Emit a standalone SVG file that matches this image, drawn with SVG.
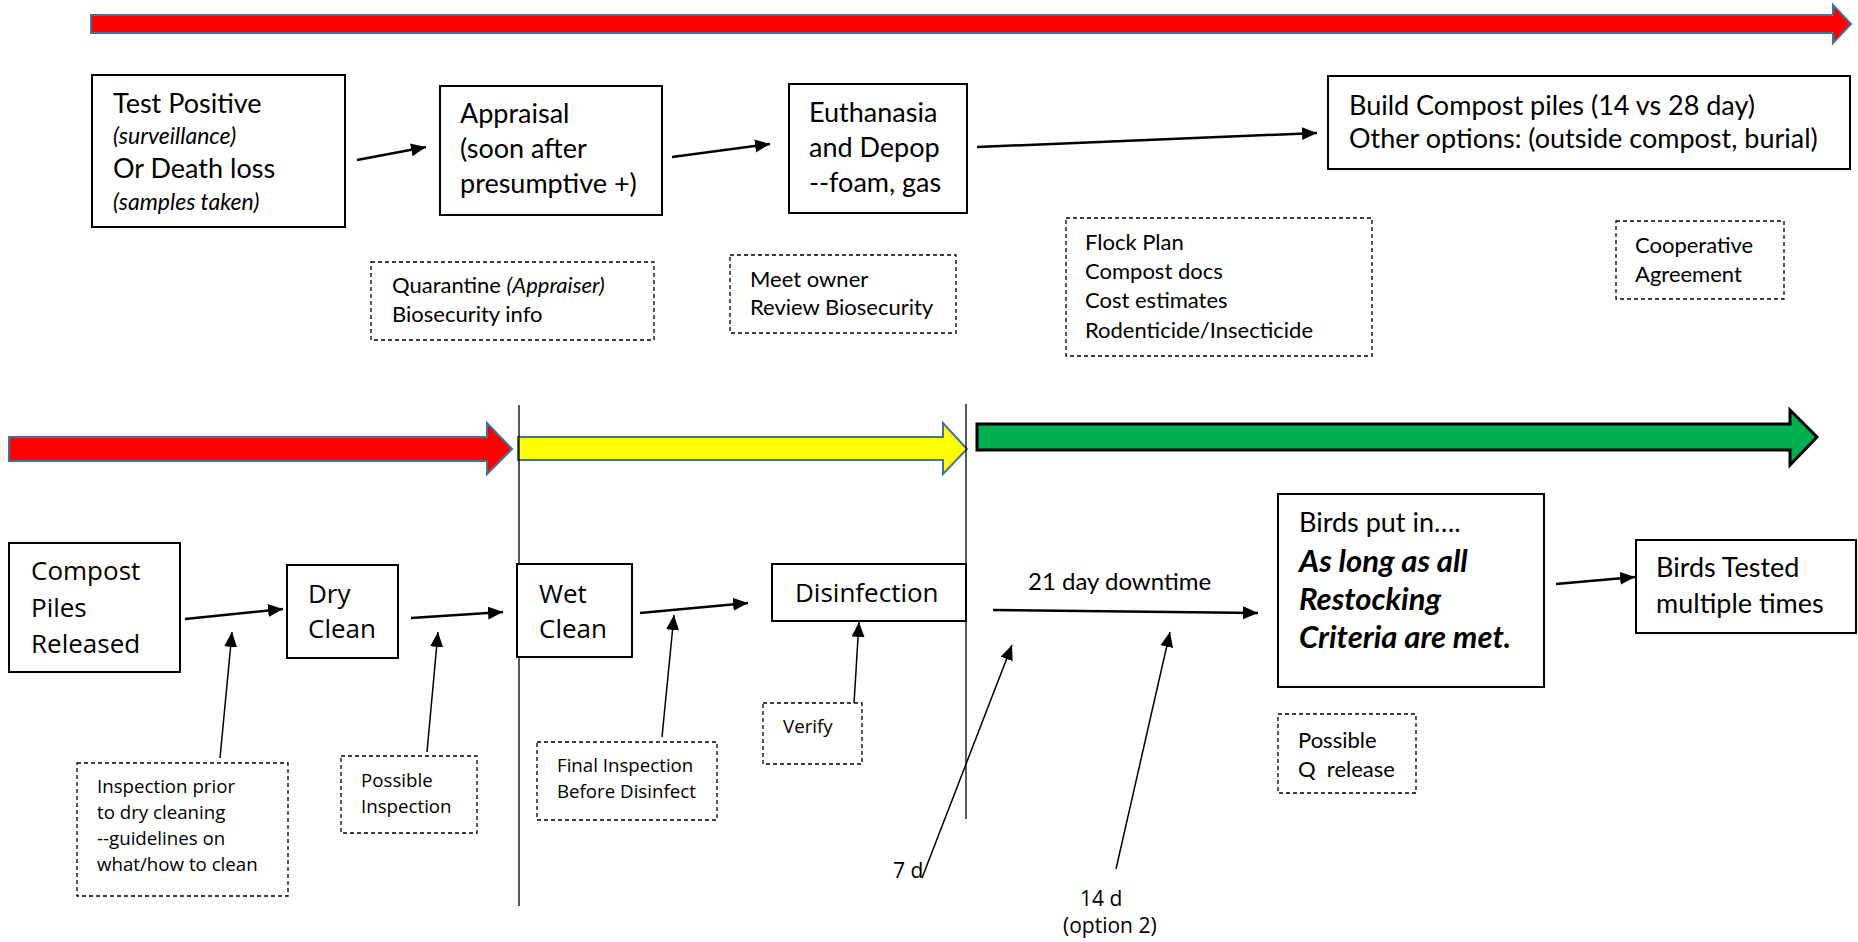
<svg xmlns="http://www.w3.org/2000/svg" width="1858" height="942" viewBox="0 0 1858 942">
<defs>
<marker id="ah" markerUnits="userSpaceOnUse" markerWidth="16" markerHeight="14" refX="15" refY="6.5" orient="auto">
<path d="M0,0 L15,6.5 L0,13 z" fill="#000"/>
</marker>
</defs>
<style>
.box{fill:#fff;stroke:#000;stroke-width:2}
.dbox{fill:#fff;stroke:#000;stroke-width:1.3;stroke-dasharray:4 3}
.cal{font-family:Lato,"Liberation Sans",sans-serif;fill:#000}
.seg{font-family:"Open Sans","Noto Sans","Liberation Sans",sans-serif;fill:#000}
.big{font-size:27px}
.sm{font-size:22px}
.it{font-style:italic}
.sub{font-style:italic;font-size:23px}
.bi{font-style:italic;font-weight:bold;font-size:31px}
.sbig{font-size:26px}
.s18{font-size:18.7px}
.s21{font-size:21px}
.s24{font-size:24px}
.flow{stroke:#000;stroke-width:2.5;fill:none;marker-end:url(#ah)}
.ptr{stroke:#000;stroke-width:1.5;fill:none;marker-end:url(#ah)}
.vl{stroke:#000;stroke-width:1.3}
.bannerR{fill:#FF0000;stroke:#41719C;stroke-width:2}
.bannerY{fill:#FFFF00;stroke:#41719C;stroke-width:2}
.bannerG{fill:#00B050;stroke:#000;stroke-width:3}
</style>

<g id="banners">
<polygon class="bannerR" points="91,15 1833,15 1833,5 1851,24 1833,43 1833,33 91,33"/>
<polygon class="bannerR" points="9,437 487,437 487,423 512,449 487,474 487,461 9,461"/>
<polygon class="bannerY" points="518,437 943,437 943,423 967,449 943,474 943,460 518,460"/>
<polygon class="bannerG" points="977,424 1790,424 1790,410 1817,437 1790,465 1790,450 977,450"/>
</g>

<g id="dividers">
<line class="vl" x1="519" y1="405" x2="519" y2="906"/>
<line class="vl" x1="966" y1="404" x2="966" y2="819"/>
</g>

<g id="test-positive">
<rect class="box" x="92" y="75" width="253" height="152"/>
<text class="cal big" x="113" y="113">Test Positive</text>
<text class="cal sub" x="113" y="144">(surveillance)</text>
<text class="cal big" x="113" y="178">Or Death loss</text>
<text class="cal sub" x="113" y="210">(samples taken)</text>
</g>

<g id="appraisal">
<rect class="box" x="440" y="86" width="222" height="129"/>
<text class="cal big" x="460" y="123">Appraisal</text>
<text class="cal big" x="460" y="158">(soon after</text>
<text class="cal big" x="460" y="193">presumptive +)</text>
</g>

<g id="euthanasia">
<rect class="box" x="789" y="84" width="178" height="129"/>
<text class="cal big" x="809" y="122">Euthanasia</text>
<text class="cal big" x="809" y="157">and Depop</text>
<text class="cal big" x="809" y="192">--foam, gas</text>
</g>

<g id="build-compost">
<rect class="box" x="1328" y="76" width="522" height="93"/>
<text class="cal big" x="1349" y="115">Build Compost piles (14 vs 28 day)</text>
<text class="cal big" x="1349" y="148">Other options: (outside compost, burial)</text>
</g>

<g id="quarantine">
<rect class="dbox" x="371" y="262" width="283" height="78"/>
<text class="cal sm" x="392" y="293">Quarantine <tspan class="it">(Appraiser)</tspan></text>
<text class="cal sm" x="392" y="322">Biosecurity info</text>
</g>

<g id="meet-owner">
<rect class="dbox" x="730" y="255" width="226" height="78"/>
<text class="cal sm" x="750" y="287">Meet owner</text>
<text class="cal sm" x="750" y="315">Review Biosecurity</text>
</g>

<g id="flock-plan">
<rect class="dbox" x="1066" y="218" width="306" height="138"/>
<text class="cal sm" x="1085" y="250">Flock Plan</text>
<text class="cal sm" x="1085" y="279">Compost docs</text>
<text class="cal sm" x="1085" y="308">Cost estimates</text>
<text class="cal sm" x="1085" y="338">Rodenticide/Insecticide</text>
</g>

<g id="cooperative">
<rect class="dbox" x="1616" y="221" width="168" height="78"/>
<text class="cal sm" x="1635" y="253">Cooperative</text>
<text class="cal sm" x="1635" y="282">Agreement</text>
</g>

<g id="compost-released">
<rect class="box" x="9" y="543" width="171" height="129"/>
<text class="seg sbig" x="31" y="580">Compost</text>
<text class="seg sbig" x="31" y="617">Piles</text>
<text class="seg sbig" x="31" y="653">Released</text>
</g>

<g id="dry-clean">
<rect class="box" x="287" y="565" width="111" height="93"/>
<text class="seg sbig" x="308" y="603">Dry</text>
<text class="seg sbig" x="308" y="638">Clean</text>
</g>

<g id="wet-clean">
<rect class="box" x="517" y="564" width="115" height="93"/>
<text class="seg sbig" x="539" y="603">Wet</text>
<text class="seg sbig" x="539" y="638">Clean</text>
</g>

<g id="disinfection">
<rect class="box" x="772" y="564" width="194" height="57"/>
<text class="seg sbig" x="795" y="602">Disinfection</text>
</g>

<g id="downtime-label">
<text class="cal s24" x="1028" y="590">21 day downtime</text>
</g>

<g id="birds-put-in">
<rect class="box" x="1278" y="494" width="266" height="193"/>
<text class="cal big" x="1299" y="532">Birds put in….</text>
<text class="cal bi" x="1299" y="572">As long as all</text>
<text class="cal bi" x="1299" y="610">Restocking</text>
<text class="cal bi" x="1299" y="648">Criteria are met.</text>
</g>

<g id="birds-tested">
<rect class="box" x="1636" y="540" width="220" height="93"/>
<text class="cal big" x="1656" y="577">Birds Tested</text>
<text class="cal big" x="1656" y="613">multiple times</text>
</g>

<g id="inspection-prior">
<rect class="dbox" x="77" y="763" width="211" height="133"/>
<text class="seg s18" x="97" y="793">Inspection prior</text>
<text class="seg s18" x="97" y="819">to dry cleaning</text>
<text class="seg s18" x="97" y="845">--guidelines on</text>
<text class="seg s18" x="97" y="871">what/how to clean</text>
</g>

<g id="possible-inspection">
<rect class="dbox" x="341" y="756" width="136" height="77"/>
<text class="seg s18" x="361" y="787">Possible</text>
<text class="seg s18" x="361" y="813">Inspection</text>
</g>

<g id="final-inspection">
<rect class="dbox" x="537" y="742" width="180" height="78"/>
<text class="seg s18" x="557" y="772">Final Inspection</text>
<text class="seg s18" x="557" y="798">Before Disinfect</text>
</g>

<g id="verify">
<rect class="dbox" x="763" y="703" width="99" height="61"/>
<text class="seg s18" x="783" y="733">Verify</text>
</g>

<g id="q-release">
<rect class="dbox" x="1278" y="714" width="138" height="79"/>
<text class="cal sm" x="1298" y="748">Possible</text>
<text class="cal sm" x="1298" y="777" xml:space="preserve" style="white-space:pre">Q  release</text>
</g>

<g id="day-labels">
<text class="seg s21" x="893" y="878">7 d</text>
<text class="seg s21" x="1080" y="906">14 d</text>
<text class="seg s21" x="1063" y="933">(option 2)</text>
</g>

<g id="connectors">
<line class="flow" x1="357" y1="160" x2="426" y2="147"/>
<line class="flow" x1="672" y1="157" x2="770" y2="144"/>
<line class="flow" x1="977" y1="147" x2="1317" y2="133"/>
<line class="flow" x1="185" y1="619" x2="283" y2="609"/>
<line class="flow" x1="411" y1="618" x2="503" y2="612"/>
<line class="flow" x1="640" y1="613" x2="748" y2="603"/>
<line class="flow" x1="993" y1="610" x2="1258" y2="613"/>
<line class="flow" x1="1556" y1="584" x2="1635" y2="577"/>
<line class="ptr" x1="220" y1="758" x2="232" y2="632"/>
<line class="ptr" x1="427" y1="752" x2="438" y2="632"/>
<line class="ptr" x1="662" y1="737" x2="674" y2="615"/>
<line class="ptr" x1="854" y1="703" x2="859" y2="622"/>
<line class="ptr" x1="922" y1="878" x2="1012" y2="645"/>
<line class="ptr" x1="1116" y1="869" x2="1170" y2="632"/>
</g>
</svg>
